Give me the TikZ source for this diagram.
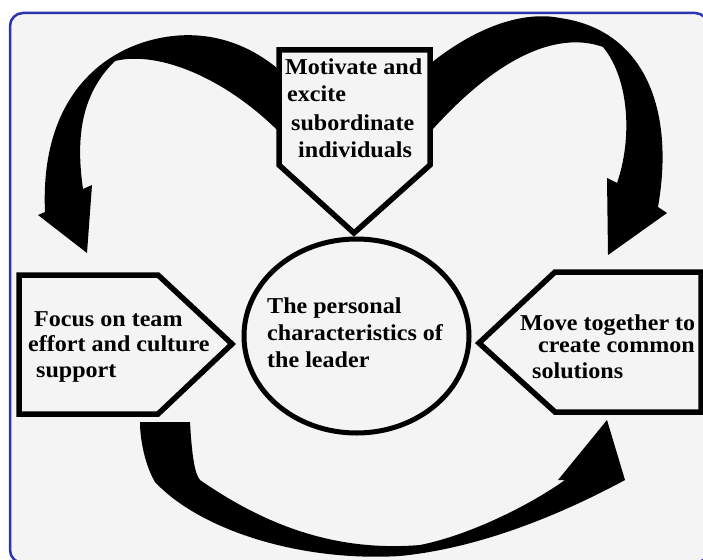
\documentclass[tikz,border=0pt]{standalone}
\usepackage{fontspec}
\setmainfont{Liberation Serif}[FakeStretch=1.06]
\definecolor{bg}{RGB}{244,244,244}
\definecolor{frameblue}{RGB}{45,52,178}
\begin{document}
\begin{tikzpicture}[x=1pt,y=-1pt,
  blk/.style={fill=bg,draw=black,line width=5.5pt,line join=miter},
  lbl/.style={anchor=base west,inner sep=0pt,font=\bfseries\fontsize{22.7}{26}\selectfont},
  arr/.style={fill=black}]
\useasboundingbox (0,0) rectangle (703,559);
\clip (0,0) rectangle (703,559);
\fill[white] (0,0) rectangle (703,559);
\draw[frameblue,fill=bg,line width=2.5pt,rounded corners=13pt] (10,13) rectangle (708,563);

% left curved arrow
\fill[arr] (285,75) .. controls (245,38) and (200,30) .. (160,38)
  .. controls (100,50) and (40,100) .. (45,212)
  -- (38,215) -- (87,253) -- (92,185) -- (83,189)
  .. controls (76,140) and (80,95) .. (115,61)
  .. controls (160,50) and (230,80) .. (285,138) -- cycle;

% right curved arrow
\fill[arr] (425,68) .. controls (470,30) and (520,10) .. (560,18)
  .. controls (645,30) and (675,110) .. (658,207)
  -- (667,213) -- (608,255) -- (607,178) -- (617,183)
  .. controls (632,140) and (630,80) .. (603,47)
  .. controls (570,35) and (510,40) .. (425,138) -- cycle;

% bottom curved arrow
\fill[arr] (140,422) -- (190,422)
  .. controls (192,458) and (195,474) .. (200,480)
  .. controls (265,525) and (335,552) .. (420,545)
  .. controls (470,535) and (530,505) .. (565,480)
  -- (558,480) -- (607,420) -- (625,480)
  .. controls (560,515) and (480,548) .. (400,556)
  .. controls (300,562) and (200,530) .. (155,482)
  .. controls (145,465) and (140,440) .. (140,422) -- cycle;

% shapes
\draw[fill=bg,line width=5pt] (356.5,336) ellipse [x radius=112.5pt, y radius=97pt];
\draw[blk] (279,50) -- (430,50) -- (430,165) -- (354,233) -- (279,165) -- cycle;
\draw[blk] (19,275) -- (158,275) -- (232,344) -- (158,414) -- (19,414) -- cycle;
\draw[blk] (701,272) -- (555,272) -- (479,343) -- (555,412) -- (701,412) -- cycle;

% texts
\node[lbl] (t1) at (285,75) {Motivate and};
\node[lbl] (t2) at (287,102) {excite};
\node[lbl] (t3) at (291,130) {subordinate};
\node[lbl] (t4) at (298,157) {individuals};
\node[lbl] (l1) at (34,326) {Focus on team};
\node[lbl] (l2) at (28,351) {effort and culture};
\node[lbl] (l3) at (36,377) {support};
\node[lbl] (c1) at (267,313) {The personal};
\node[lbl] (c2) at (267,340) {characteristics of};
\node[lbl] (c3) at (267,367) {the leader};
\node[lbl] (r1) at (520,330) {Move together to};
\node[lbl] (r2) at (538,352) {create common};
\node[lbl] (r3) at (532,378) {solutions};
\end{tikzpicture}
\end{document}
